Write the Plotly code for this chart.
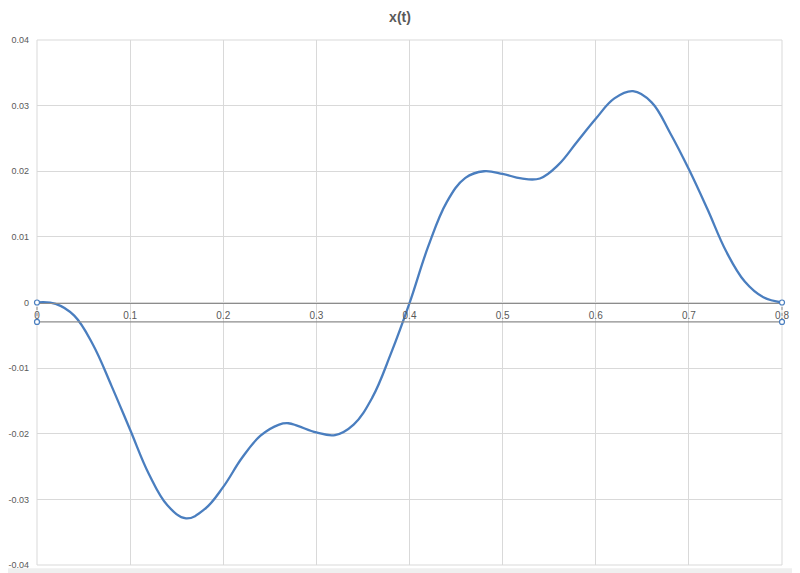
import plotly.graph_objects as go

# x(t)
t = [0.00, 0.02, 0.04, 0.06, 0.08, 0.10, 0.12, 0.14, 0.16, 0.18,
     0.20, 0.22, 0.24, 0.26, 0.27, 0.28, 0.30, 0.32, 0.34, 0.36,
     0.38, 0.40, 0.42, 0.44, 0.46, 0.48, 0.50, 0.52, 0.54, 0.56,
     0.58, 0.60, 0.62, 0.64, 0.66, 0.68, 0.70, 0.72, 0.74, 0.76,
     0.78, 0.80]
x = [0.0000, -0.0002, -0.0020, -0.0064, -0.0127, -0.0194, -0.0261, -0.0309, -0.0329, -0.0315,
     -0.0281, -0.0237, -0.0203, -0.0186, -0.0184, -0.0188, -0.0198, -0.0202, -0.0186, -0.0145,
     -0.0078, -0.0001, 0.0085, 0.0153, 0.0190, 0.0200, 0.0196, 0.0189, 0.0189, 0.0210,
     0.0245, 0.0280, 0.0311, 0.0322, 0.0305, 0.0258, 0.0203, 0.0142, 0.0078, 0.0032,
     0.0008, 0.0000]

x_ticks = [0, 0.1, 0.2, 0.3, 0.4, 0.5, 0.6, 0.7, 0.8]
x_tick_labels = ["0", "0.1", "0.2", "0.3", "0.4", "0.5", "0.6", "0.7", "0.8"]
y_ticks = [0.04, 0.03, 0.02, 0.01, 0, -0.01, -0.02, -0.03, -0.04]
y_tick_labels = ["0.04", "0.03", "0.02", "0.01", "0", "-0.01", "-0.02", "-0.03", "-0.04"]

grid = "#d9d9d9"
text_col = "#595959"
sel_y = 0.463  # second (selected) axis line just below zero, paper coords

fig = go.Figure()
fig.add_trace(go.Scatter(x=t, y=x, mode="lines",
                         line=dict(color="#4a7ebf", width=2.3, shape="spline", smoothing=1.1),
                         showlegend=False, hoverinfo="x+y"))

shapes = [
    # plot area border
    dict(type="rect", xref="paper", yref="paper", x0=0, x1=1, y0=0, y1=1,
         line=dict(color=grid, width=1), layer="below"),
    # selection line under the axis
    dict(type="line", xref="paper", yref="paper", x0=0, x1=1, y0=sel_y, y1=sel_y,
         line=dict(color="#8c8c8c", width=1.3)),
    dict(type="line", xref="paper", yref="paper", x0=0, x1=0, y0=sel_y, y1=0.5,
         line=dict(color="#8c8c8c", width=1, dash="dot")),
    dict(type="line", xref="paper", yref="paper", x0=1, x1=1, y0=sel_y, y1=0.5,
         line=dict(color="#8c8c8c", width=1, dash="dot")),
    # ruler band at the bottom
    dict(type="rect", xref="paper", yref="paper", x0=-0.06, x1=1.03, y0=-0.006, y1=-0.03,
         fillcolor="#efefef", line=dict(width=0), layer="below"),
]
for px in [0, 1]:
    for py in [0.5, sel_y]:
        shapes.append(dict(type="circle", xref="paper", yref="paper", xsizemode="pixel",
                           ysizemode="pixel", xanchor=px, yanchor=py, x0=-2.5, x1=2.5, y0=-2.5, y1=2.5,
                           line=dict(color="#4a7ebf", width=1.2), fillcolor="white"))
fig.update_layout(shapes=shapes)

fig.update_layout(
    width=784, height=565,
    margin=dict(l=29, r=10, t=32, b=8),
    paper_bgcolor="white", plot_bgcolor="white",
    font=dict(family="Liberation Sans, Arial, sans-serif", color=text_col, size=10),
    title=dict(text="<b>x(t)</b>", x=0.5, xanchor="center", y=0.984, yanchor="middle",
               font=dict(size=14, color=text_col), automargin=False),
    xaxis=dict(range=[0, 0.8], tickvals=x_ticks, ticktext=x_tick_labels,
               showgrid=True, gridcolor=grid, gridwidth=1, automargin=False,
               anchor="free", position=0.5, showline=True, linecolor="#8c8c8c", linewidth=1.3,
               ticks="", ticklabelstandoff=3, zeroline=False, tickfont=dict(size=10)),
    yaxis=dict(range=[-0.04, 0.04], tickvals=y_ticks, ticktext=y_tick_labels,
               showgrid=True, gridcolor=grid, gridwidth=1, zeroline=False, automargin=False,
               showline=False, ticks="", ticklabelstandoff=7, tickfont=dict(size=9)),
)

fig.write_html("out.html")
